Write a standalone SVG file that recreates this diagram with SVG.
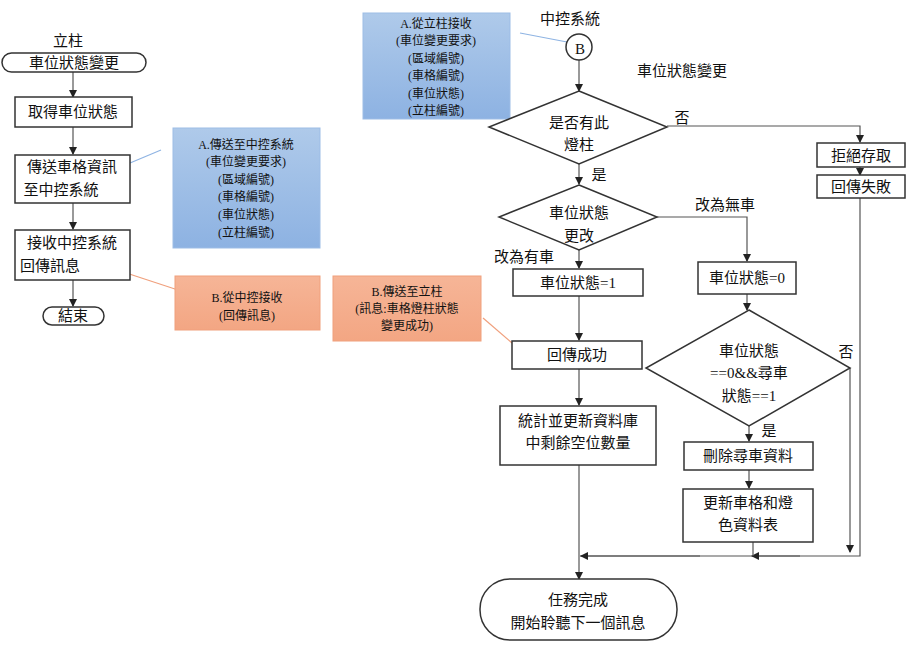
<svg xmlns="http://www.w3.org/2000/svg" width="910" height="647" viewBox="0 0 910 647">
<defs>
<linearGradient id="gb" x1="0" y1="0" x2="0" y2="1"><stop offset="0" stop-color="#afcaea"/><stop offset="1" stop-color="#8db2e2"/></linearGradient>
<linearGradient id="go" x1="0" y1="0" x2="0" y2="1"><stop offset="0" stop-color="#f6b597"/><stop offset="1" stop-color="#f3a683"/></linearGradient>
<marker id="ar" markerWidth="8" markerHeight="8" refX="7" refY="4" orient="auto" markerUnits="userSpaceOnUse"><path d="M0,0 L8,4 L0,8 z" fill="#222"/></marker>
<style>
text{font-family:"Liberation Serif","Noto Sans CJK TC",serif;font-size:15px;fill:#111;text-anchor:middle}
.s{font-size:12px}
.b{fill:#fff;stroke:#333;stroke-width:1.5}
.c line,.c polyline{stroke:#555;stroke-width:1.2;fill:none}
.a{marker-end:url(#ar)}
.nb{fill:url(#gb);stroke:#9dbde6}
.no{fill:url(#go);stroke:#f0a07d}
</style>
</defs>
<rect width="910" height="647" fill="#fff"/>
<g class="c">
<line class="a" x1="73" y1="72" x2="73" y2="97"/>
<line class="a" x1="73" y1="127" x2="73" y2="154"/>
<line class="a" x1="73" y1="203" x2="73" y2="229"/>
<line class="a" x1="73" y1="280" x2="73" y2="306"/>
<line x1="130" y1="163" x2="161" y2="150" style="stroke:#8fb4e3"/>
<line x1="105" y1="266" x2="178" y2="290" style="stroke:#f0a07d"/>
<line x1="520" y1="33" x2="567" y2="42" style="stroke:#8fb4e3"/>
<line x1="483" y1="318" x2="512" y2="343" style="stroke:#f0a07d"/>
<line class="a" x1="579" y1="60" x2="579" y2="91"/>
<polyline class="a" points="667,126 860,126 860,142"/>
<line class="a" x1="860" y1="167" x2="860" y2="175"/>
<polyline points="860,198 860,556 580,556"/>
<line class="a" x1="579" y1="164" x2="579" y2="184"/>
<polyline class="a" points="657,217 747,217 747,261"/>
<line class="a" x1="579" y1="250" x2="579" y2="268"/>
<line class="a" x1="747" y1="294" x2="747" y2="310"/>
<line class="a" x1="579" y1="296" x2="579" y2="340"/>
<line class="a" x1="579" y1="369" x2="579" y2="405"/>
<line class="a" x1="579" y1="465" x2="579" y2="579"/>
<line class="a" x1="700" y1="556" x2="581" y2="556"/>
<line class="a" x1="800" y1="556" x2="752" y2="556"/>
<line x1="753" y1="542" x2="753" y2="556"/>
<polyline class="a" points="850,368 850,552"/>
<line class="a" x1="749" y1="426" x2="749" y2="441"/>
<line class="a" x1="749" y1="470" x2="749" y2="488"/>
</g>
<g id="left-title"><text x="68" y="46">立柱</text></g>
<g id="l-start"><rect x="2" y="53" width="144" height="19" rx="9.5" class="b"/><text x="74" y="68">車位狀態變更</text></g>
<g id="l-get"><rect x="15" y="97" width="117" height="30" class="b"/><text x="73" y="117">取得車位狀態</text></g>
<g id="l-send"><rect x="15" y="155" width="115" height="48" class="b"/><text x="72" y="172">傳送車格資訊</text><text x="61" y="195">至中控系統</text></g>
<g id="l-recv"><rect x="15" y="230" width="115" height="50" class="b"/><text x="72" y="248">接收中控系統</text><text x="50" y="271">回傳訊息</text></g>
<g id="l-end"><rect x="43" y="307" width="61" height="18" rx="9" class="b"/><text x="73" y="321">結束</text></g>
<g id="noteA1"><rect x="173" y="128" width="147" height="120" class="nb"/>
<text class="s" x="246" y="149">A.傳送至中控系統</text><text class="s" x="246" y="166">(車位變更要求)</text><text class="s" x="246" y="184">(區域編號)</text><text class="s" x="246" y="201">(車格編號)</text><text class="s" x="246" y="219">(車位狀態)</text><text class="s" x="246" y="237">(立柱編號)</text></g>
<g id="noteB1"><rect x="175" y="276" width="145" height="54" class="no"/><text class="s" x="247" y="302">B.從中控接收</text><text class="s" x="247" y="320">(回傳訊息)</text></g>
<g id="noteA2"><rect x="363" y="13" width="147" height="106" class="nb"/>
<text class="s" x="436" y="28">A.從立柱接收</text><text class="s" x="436" y="45">(車位變更要求)</text><text class="s" x="436" y="63">(區域編號)</text><text class="s" x="436" y="80">(車格編號)</text><text class="s" x="436" y="98">(車位狀態)</text><text class="s" x="436" y="115">(立柱編號)</text></g>
<g id="noteB2"><rect x="333" y="276" width="148" height="65" class="no"/><text class="s" x="407" y="296">B.傳送至立柱</text><text class="s" x="407" y="313">(訊息:車格燈柱狀態</text><text class="s" x="407" y="330">變更成功)</text></g>
<g id="r-title"><text x="570" y="24">中控系統</text><text x="682" y="76">車位狀態變更</text></g>
<g id="r-B"><circle cx="579" cy="47" r="13" class="b" stroke-width="1.2"/><text x="580" y="54">B</text></g>
<g id="d1"><polygon points="579,91 667,127 579,164 489,127" class="b"/><text x="579" y="128">是否有此</text><text x="579" y="150">燈柱</text></g>
<text x="682" y="123">否</text><text x="599" y="180">是</text>
<g id="reject"><rect x="817" y="143" width="88" height="24" class="b"/><text x="861" y="161">拒絕存取</text></g>
<g id="fail"><rect x="817" y="175" width="88" height="23" class="b"/><text x="861" y="192">回傳失敗</text></g>
<g id="d2"><polygon points="579,185 657,217 579,250 499,217" class="b"/><text x="579" y="218">車位狀態</text><text x="579" y="241">更改</text></g>
<text x="725" y="210">改為無車</text><text x="524" y="262">改為有車</text>
<g id="s1"><rect x="513" y="269" width="130" height="27" class="b"/><text x="578" y="288">車位狀態=1</text></g>
<g id="s0"><rect x="698" y="262" width="98" height="32" class="b"/><text x="747" y="283">車位狀態=0</text></g>
<g id="ok"><rect x="512" y="341" width="130" height="28" class="b"/><text x="577" y="360">回傳成功</text></g>
<g id="stat"><rect x="500" y="406" width="156" height="59" class="b"/><text x="578" y="426">統計並更新資料庫</text><text x="578" y="448">中剩餘空位數量</text></g>
<g id="d3"><polygon points="749,310 850,368 749,426 646,368" class="b"/><text x="749" y="356">車位狀態</text><text x="749" y="378">==0&amp;&amp;尋車</text><text x="749" y="401">狀態==1</text></g>
<text x="846" y="357">否</text><text x="769" y="436">是</text>
<g id="del"><rect x="684" y="442" width="129" height="28" class="b"/><text x="748" y="461">刪除尋車資料</text></g>
<g id="upd"><rect x="683" y="489" width="130" height="53" class="b"/><text x="748" y="508">更新車格和燈</text><text x="748" y="530">色資料表</text></g>
<g id="done"><rect x="480" y="579" width="197" height="61" rx="30" class="b"/><text x="578" y="605">任務完成</text><text x="578" y="628">開始聆聽下一個訊息</text></g>
</svg>
